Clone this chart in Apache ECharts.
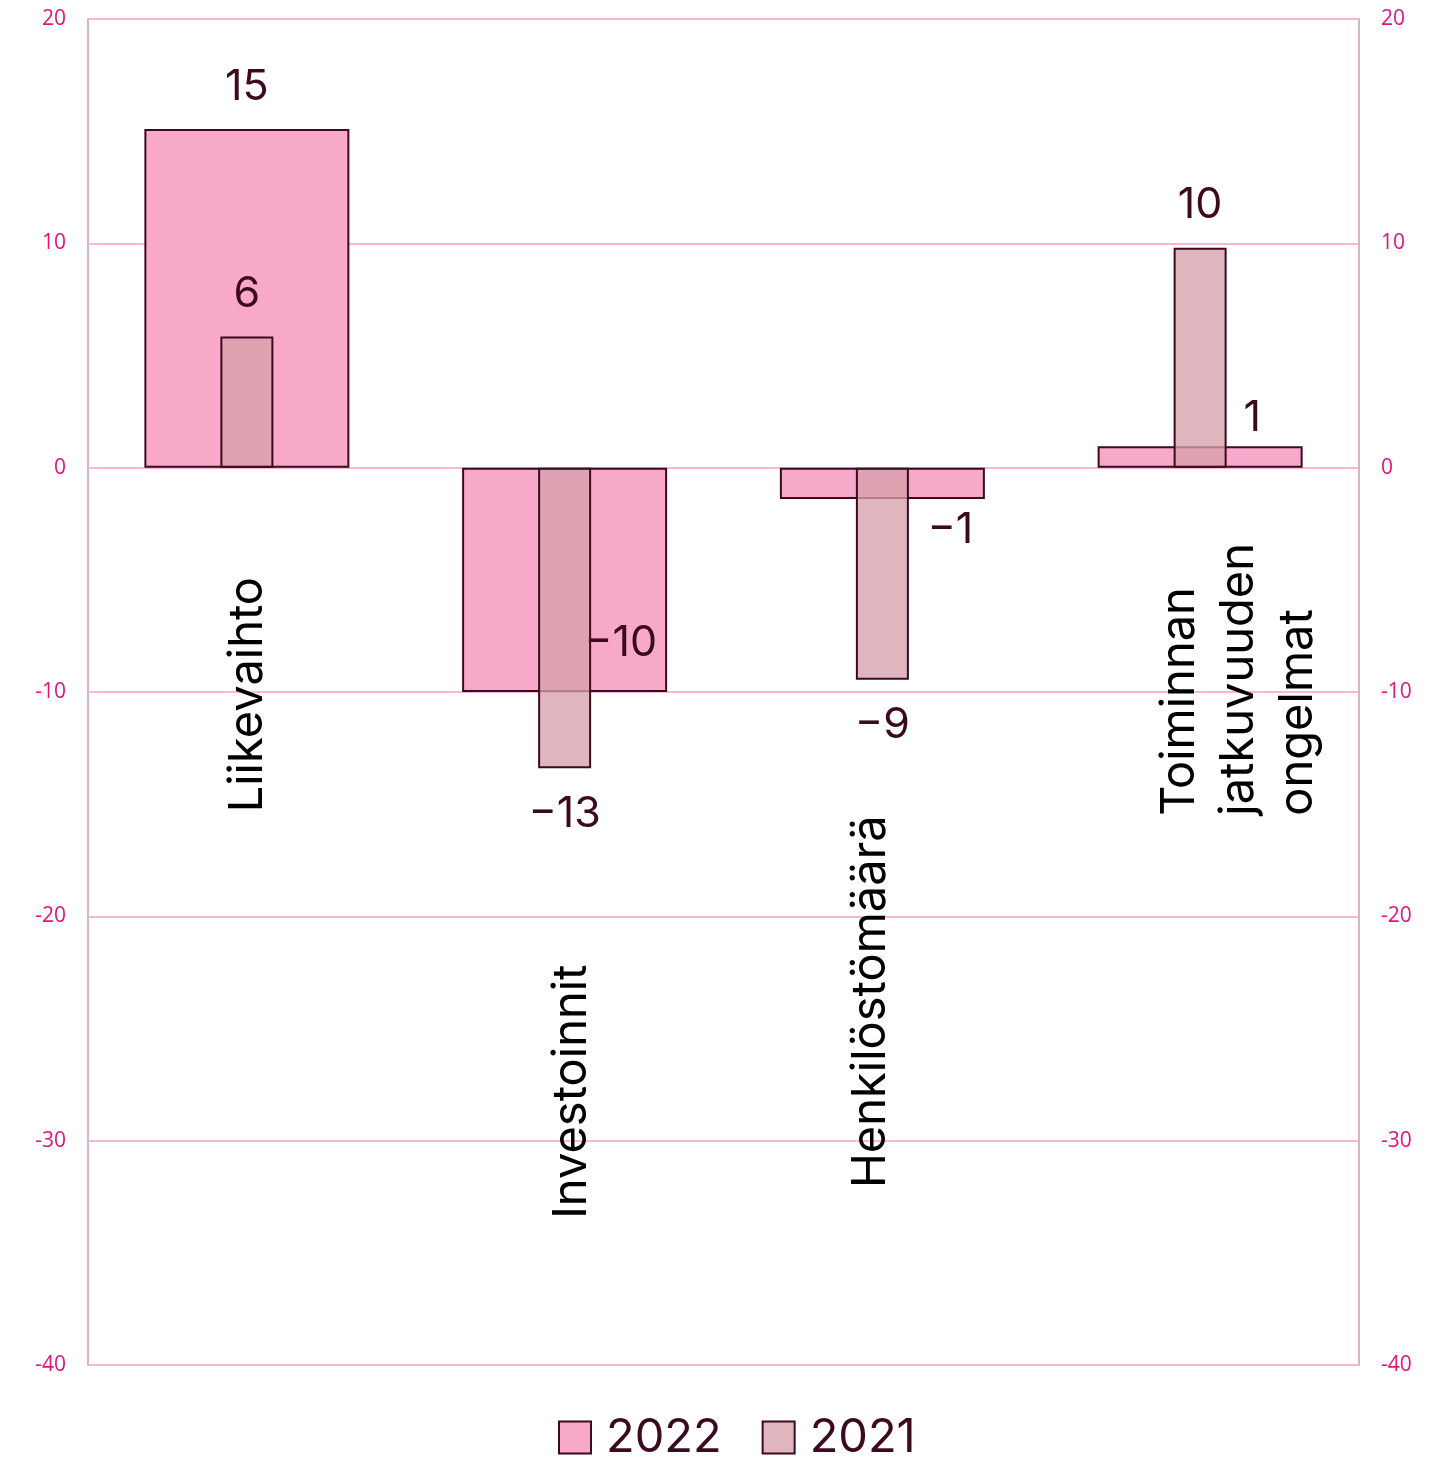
<!DOCTYPE html>
<html>
<head>
<meta charset="utf-8">
<script src="https://cdn.jsdelivr.net/npm/echarts@6/dist/echarts.min.js"></script>
<style>
html,body{margin:0;padding:0;background:#fff;}
#main{width:1430px;height:1457px;}
</style>
</head>
<body>
<div id="main"></div>
<script>
// ---- data ----
const categories = ['Liikevaihto', 'Investoinnit', 'Henkilöstömäärä', 'Toiminnan\njatkuvuuden\nongelmat'];
const seriesNames = ['2022', '2021'];
const values2022 = [15.1, -10.0, -1.4, 0.95];
const values2021 = [5.85, -13.4, -9.45, 9.8];
const yTicks = [-40, -30, -20, -10, 0, 10, 20];

// ---- styles ----
const TEXT = '#3b0a1e';
const FONT = 'Inter';
// label offsets (style only)
const lab2022 = [
  {position: 'top', distance: 20, offset: [0, 0]},
  {position: 'inside', offset: [56, 63]},
  {position: 'inside', offset: [68, 47]},
  {position: 'inside', offset: [52, -39]}
];
const lab2021 = [
  {position: 'top', distance: 21, offset: [0, 0]},
  {position: 'bottom', distance: 24, offset: [0, 0]},
  {position: 'bottom', distance: 24, offset: [0, 0]},
  {position: 'top', distance: 21, offset: [0, 0]}
];
// category label placement (pixel offsets from category centre / zero line)
const catLabelLayout = [
  {dx: 1, dy: 227, align: 'center'},
  {dx: 7, dy: 624, align: 'center'},
  {dx: -12, dy: 534, align: 'center'},
  {dx: 39, dy: 348, align: 'left'}
];

function fmt(p) {
  const v = Math.round(p.value);
  return v < 0 ? '\u2212' + Math.abs(v) : String(v);
}

const chart = echarts.init(document.getElementById('main'), null, {renderer: 'canvas'});

const labelBase = {show: true, color: TEXT, fontFamily: FONT, fontSize: 43, lineHeight: 43, formatter: fmt};

const yAxisCommon = {
  type: 'value', min: -40, max: 20, interval: 10,
  axisLine: {show: true, lineStyle: {color: '#d8b6c4', width: 2}},
  axisTick: {show: false},
  splitLine: {show: true, lineStyle: {color: '#f9b7d4', width: 2}},
  axisLabel: {color: '#e0157a', fontSize: 21, fontFamily: 'Open Sans', margin: 22}
};

chart.setOption({
  animation: false,
  backgroundColor: '#ffffff',
  grid: {left: 88, right: 71, top: 19, bottom: 92, containLabel: false},
  legend: {
    bottom: -9, left: 553,
    data: seriesNames,
    icon: 'rect', itemWidth: 32, itemHeight: 32, itemGap: 40,
    textStyle: {color: TEXT, fontFamily: FONT, fontSize: 47, padding: [4, 0, 0, 10]}
  },
  xAxis: [
    {type: 'category', data: categories, axisLine: {show: false}, axisTick: {show: false}, axisLabel: {show: false}, splitLine: {show: false}},
    {type: 'category', data: categories, show: false}
  ],
  yAxis: [
    Object.assign({position: 'left'}, yAxisCommon),
    Object.assign({position: 'right'}, yAxisCommon)
  ],
  series: [
    {
      name: seriesNames[0], type: 'bar', xAxisIndex: 0, yAxisIndex: 0,
      barWidth: 205,
      itemStyle: {color: '#f8a9ca', borderColor: '#3b0a1e', borderWidth: 2},
      data: values2022.map((v, i) => ({value: v, label: Object.assign({}, labelBase, lab2022[i])})),
      z: 2
    },
    {
      name: seriesNames[1], type: 'bar', xAxisIndex: 1, yAxisIndex: 0,
      barWidth: 53,
      itemStyle: {color: 'rgba(214,160,172,0.78)', borderColor: '#3b0a1e', borderWidth: 2},
      data: values2021.map((v, i) => ({value: v, label: Object.assign({}, labelBase, lab2021[i])})),
      z: 3
    }
  ]
});

// category labels as rotated text, placed via the axis scales
const y0 = chart.convertToPixel({yAxisIndex: 0}, 0);
const graphics = categories.map((c, i) => {
  const cx = chart.convertToPixel({xAxisIndex: 0}, i);
  const L = catLabelLayout[i];
  return {
    type: 'text',
    x: cx + L.dx, y: y0 + L.dy,
    rotation: Math.PI / 2,
    style: {
      text: c, fill: '#000', font: '47px ' + FONT,
      align: L.align, verticalAlign: 'middle', lineHeight: 59
    },
    z: 10
  };
});
chart.setOption({graphic: graphics});
</script>
</body>
</html>
